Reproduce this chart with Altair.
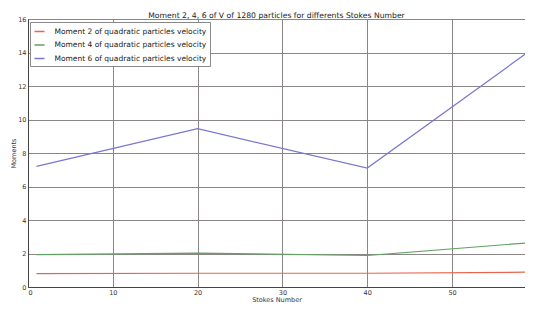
import altair as alt
import pandas as pd

stokes = [1, 20, 40, 60]
moment2 = [0.80, 0.82, 0.82, 0.89]
moment4 = [1.93, 2.02, 1.88, 2.68]
moment6 = [7.2, 9.45, 7.1, 14.4]
series_names = [
    "Moment 2 of quadratic particles velocity",
    "Moment 4 of quadratic particles velocity",
    "Moment 6 of quadratic particles velocity",
]
colors = ["#e8644e", "#62a262", "#7a76cf"]

rows = []
for name, vals in zip(series_names, [moment2, moment4, moment6]):
    for s, v in zip(stokes, vals):
        rows.append({"Stokes": s, "Moment": v, "Series": name})
df = pd.DataFrame(rows)

chart = alt.Chart(df).mark_line(strokeWidth=1.2, clip=True).encode(
    x=alt.X("Stokes:Q", title="Stokes Number",
            scale=alt.Scale(domain=[0, 58.6], nice=False, zero=False),
            axis=alt.Axis(values=[0, 10, 20, 30, 40, 50])),
    y=alt.Y("Moment:Q", title="Moments",
            scale=alt.Scale(domain=[0, 16], nice=False),
            axis=alt.Axis(values=[0, 2, 4, 6, 8, 10, 12, 14, 16])),
    color=alt.Color("Series:N", scale=alt.Scale(domain=series_names, range=colors),
                    legend=alt.Legend(title=None, orient="none", legendX=2, legendY=3,
                                      symbolType="stroke", symbolSize=100, symbolStrokeWidth=1.5,
                                      labelFont="DejaVu Sans", labelFontSize=7.5, labelColor="#222",
                                      labelOffset=9, rowPadding=3.5, padding=3.5, fillColor="white",
                                      strokeColor="#888", labelLimit=300)),
).properties(
    width=497, height=268,
    title=alt.TitleParams("Moment 2, 4, 6 of V of 1280 particles for differents Stokes Number",
                          font="DejaVu Sans", fontSize=7.7, fontWeight="normal", color="#222",
                          offset=0, dy=4),
    autosize=alt.AutoSizeParams(type="none"),
    padding={"left": 20, "top": 11, "right": 0, "bottom": 16},
).configure_axis(
    grid=True, gridColor="#8a8686", gridWidth=1, domainColor="#444",
    ticks=False, labelFont="DejaVu Sans", labelFontSize=6.5,
    labelColor="#333", titleFont="DejaVu Sans", titleFontSize=6.5, titleFontWeight="normal",
    titleColor="#333", labelPadding=2,
).configure_axisX(titlePadding=1).configure_axisY(titlePadding=1).configure_view(
    stroke="#444", strokeWidth=1
)

chart.save("out.html", embed_options={"renderer": "svg", "actions": False})
